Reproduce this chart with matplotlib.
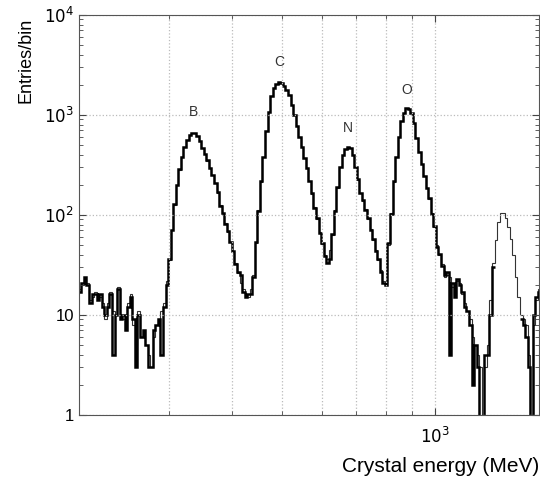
import matplotlib
matplotlib.use("Agg")
import matplotlib.pyplot as plt
import numpy as np
from matplotlib.ticker import FixedLocator, FixedFormatter, NullFormatter

plt.rcParams['font.family'] = ['Liberation Sans', 'DejaVu Sans']

# 181 log spaced bins (0.005 decade each) from 200 MeV
edges = np.geomspace(200, 200 * 10 ** 0.905, 182)

# thin line
counts_thin = [18, 20, 23, 21, 14, 15, 17, 15, 15, 13,
               9, 13, 17, 11, 10, 19, 9, 9, 7, 13,
               16, 8, 5, 11, 6, 6, 5, 4, 3, 6,
               8, 9, 11, 13, 22, 35, 71, 126, 200, 282,
               380, 479, 562, 631, 661, 661, 617, 550, 468, 407,
               347, 295, 251, 209, 166, 126, 102, 83, 68, 54,
               43, 33, 26, 21, 18, 16, 15, 18, 25, 52,
               112, 214, 380, 692, 1072, 1549, 1862, 2042, 2138, 2089,
               1950, 1778, 1585, 1259, 1000, 776, 603, 479, 372, 295,
               219, 162, 120, 91, 68, 51, 40, 36, 45, 63,
               112, 186, 302, 398, 457, 479, 468, 398, 302, 224,
               166, 138, 115, 91, 72, 56, 45, 35, 28, 22,
               21, 50, 105, 214, 380, 603, 871, 1047, 1175, 1148,
               1047, 832, 589, 427, 324, 245, 186, 145, 105, 76,
               50, 40, 32, 24, 25, 24, 19, 16, 22, 21,
               16, 13, 11, 9, 6, 5, 4, 3, 0, 3,
               5, 14, 33, 56, 85, 105, 105, 93, 76, 58,
               40, 24, 15, 10, 9, 8, 4, 0, 8, 14,
               18]

# thick line
counts_thick = [17, 21, 24, 20, 13, 16, 16, 14, 16, 12,
                10, 12, 16, 4, 10, 18, 9, 10, 7, 12,
                15, 9, 3, 10, 6, 7, 5, 3, 3, 7,
                8, 9, 4, 12, 20, 36, 70, 128, 198, 285,
                378, 482, 560, 634, 665, 658, 620, 548, 470, 405,
                350, 292, 253, 207, 168, 124, 104, 81, 69, 53,
                44, 32, 27, 25, 17, 15, 16, 16, 24, 54,
                110, 216, 378, 695, 1068, 1552, 1858, 2046, 2130, 2092,
                1946, 1782, 1580, 1262, 996, 780, 600, 482, 370, 297,
                217, 164, 118, 93, 66, 52, 39, 33, 36, 65,
                110, 188, 300, 400, 455, 482, 466, 400, 300, 226,
                164, 140, 113, 93, 70, 57, 44, 36, 27, 21,
                20, 52, 103, 216, 378, 605, 868, 1050, 1170, 1152,
                1044, 835, 586, 430, 322, 247, 184, 147, 103, 78,
                48, 41, 31, 25, 27, 4, 21, 15, 23, 20,
                17, 12, 11, 8, 2, 5, 3, 0, 0, 4,
                4, 10, 30, None, None, None, None, None, None, None,
                None, None, None, 9, 8, 6, 3, 0, 10, 15,
                17]

peak_names = ['B', 'C', 'N', 'O']
peak_energy = [336, 494, 675, 880]
peak_height = [1070, 3390, 741, 1778]

thin = np.array([np.nan if v is None else v for v in counts_thin], float)
thick = np.array([np.nan if v is None else v for v in counts_thick], float)

fig = plt.figure(figsize=(5.4, 4.78), dpi=100)
ax = fig.add_axes([0.146, 0.132, 0.853, 0.837])

ax.stairs(thin, edges, color='#333333', linewidth=0.8, baseline=None)
ax.stairs(thick, edges, color='black', linewidth=1.8, baseline=None)

ax.set_xscale('log')
ax.set_yscale('log')
ax.set_xlim(200, 1600)
ax.set_ylim(1, 1e4)

ax.xaxis.set_major_locator(FixedLocator([1000]))
ax.xaxis.set_major_formatter(FixedFormatter(['$10^3$']))
ax.xaxis.set_minor_locator(FixedLocator([300, 400, 500, 600, 700, 800, 900]))
ax.xaxis.set_minor_formatter(NullFormatter())

ax.yaxis.set_major_locator(FixedLocator([1, 10, 100, 1000, 10000]))
ax.yaxis.set_major_formatter(FixedFormatter(['1', '10', '$10^2$', '$10^3$', '$10^4$']))

ax.tick_params(which='both', direction='in', top=True, right=True, labelsize=12,
               color='#444444')
ax.tick_params(which='major', length=5)
ax.tick_params(which='minor', length=3)
ax.tick_params(axis='x', pad=8)

ax.grid(True, which='major', linestyle=':', color='#bbbbbb', linewidth=0.9)
ax.grid(True, which='minor', axis='x', linestyle=':', color='#bbbbbb', linewidth=0.9)
for s in ax.spines.values():
    s.set_color('#555555')

for n, e, h in zip(peak_names, peak_energy, peak_height):
    ax.text(e, h, n, ha='center', va='center', fontsize=10, color='#333333')

ax.set_ylabel('Entries/bin', fontsize=13)
ax.yaxis.set_label_coords(-0.097, 0.885)
fig.text(0.999, 0.005, 'Crystal energy (MeV)', ha='right', va='bottom', fontsize=15)

fig.savefig('out.png', dpi=100)
